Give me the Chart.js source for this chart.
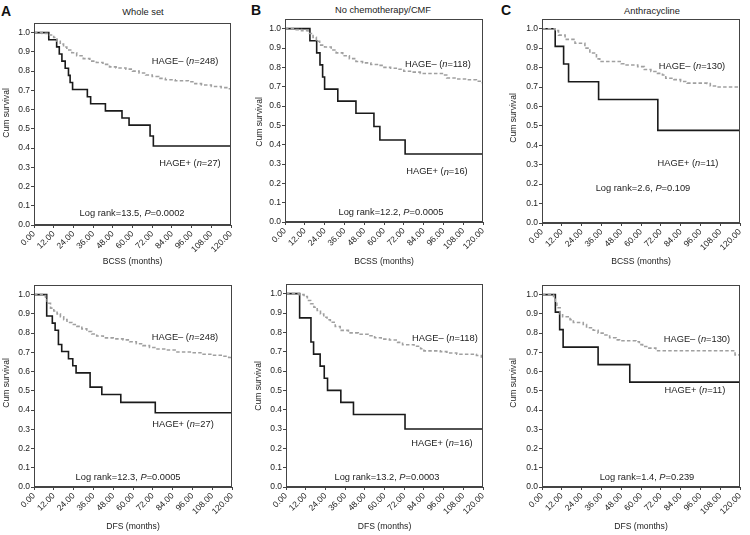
<!DOCTYPE html>
<html>
<head>
<meta charset="utf-8">
<script src="https://cdn.jsdelivr.net/npm/chart.js@4.4.1/dist/chart.umd.min.js"></script>
<style>
  body { margin: 0; background: #fff; width: 750px; height: 535px; position: relative; overflow: hidden;
         font-family: "Liberation Sans", Arial, sans-serif; color: #222; }
  canvas { position: absolute; }
  .ttl { position: absolute; transform: translate(-50%, -50%); white-space: nowrap; font-size: 9.3px; }
  .letter { position: absolute; transform: translate(-50%, -50%); font-weight: bold; font-size: 14px; color: #111; }
</style>
</head>
<body>
<div class="letter" style="left:6px;top:11px">A</div>
<div class="letter" style="left:256px;top:10px">B</div>
<div class="letter" style="left:506px;top:10px">C</div>
<div class="ttl" id="t0" style="left:143px;top:12px"></div>
<div class="ttl" id="t1" style="left:383px;top:10px"></div>
<div class="ttl" id="t2" style="left:652px;top:11px"></div>
<canvas id="c0" width="245" height="268" style="left:0;top:0"></canvas>
<canvas id="c1" width="245" height="268" style="left:250px;top:0"></canvas>
<canvas id="c2" width="250" height="268" style="left:500px;top:0"></canvas>
<canvas id="c3" width="245" height="267" style="left:0;top:268px"></canvas>
<canvas id="c4" width="245" height="267" style="left:250px;top:268px"></canvas>
<canvas id="c5" width="250" height="267" style="left:500px;top:268px"></canvas>
<script>
const monthTicks = [0, 12, 24, 36, 48, 60, 72, 84, 96, 108, 120];
const survivalTicks = [0, 0.1, 0.2, 0.3, 0.4, 0.5, 0.6, 0.7, 0.8, 0.9, 1.0];
const cohorts = ['Whole set', 'No chemotherapy/CMF', 'Anthracycline'];
const endpoints = ['BCSS (months)', 'DFS (months)'];
const nNeg = [248, 118, 130];
const nPos = [27, 16, 11];
const logRank = ['13.5', '12.2', '2.6', '12.3', '13.2', '1.4'];
const pValue = ['0.0002', '0.0005', '0.109', '0.0005', '0.0003', '0.239'];

// BCSS, [months, cum survival]
const bcssWholePos = [[0,1],[9,0.963],[13.8,0.926],[15.4,0.889],[17,0.852],[19,0.815],[21,0.778],[22,0.741],[23.5,0.704],[32.5,0.667],[34.5,0.63],[43.5,0.593],[53.6,0.556],[57.9,0.519],[70.7,0.463],[72.7,0.411],[120,0.411]];
const bcssWholeNeg = [[0,1],[5,0.996],[9,0.988],[12,0.975],[14,0.955],[16,0.94],[18,0.925],[20,0.91],[23,0.895],[26,0.88],[30,0.865],[34,0.852],[38,0.845],[42,0.835],[46,0.822],[50,0.816],[56,0.81],[60,0.8],[64,0.79],[68,0.78],[72,0.772],[76,0.762],[80,0.755],[86,0.75],[94,0.745],[98,0.735],[102,0.728],[108,0.72],[114,0.714],[118,0.708],[120,0.708]];
const bcssNoChemoPos = [[0,1],[15.1,0.9375],[19.2,0.875],[21.2,0.8125],[22.8,0.75],[24,0.6875],[32,0.625],[43,0.5625],[53.9,0.494],[57.5,0.424],[72.8,0.352],[120,0.352]];
const bcssNoChemoNeg = [[0,1],[6,0.995],[10,0.99],[14,0.975],[17,0.955],[19,0.935],[21,0.915],[24,0.905],[28,0.89],[31,0.875],[35,0.86],[39,0.845],[43,0.83],[47,0.823],[52,0.815],[56,0.81],[60,0.8],[64,0.795],[68,0.79],[72,0.78],[76,0.775],[82,0.768],[96,0.76],[98,0.745],[104,0.74],[110,0.736],[116,0.728],[119,0.72],[120,0.72]];
const bcssAnthraPos = [[0,1],[8,0.909],[13.1,0.818],[16.1,0.727],[34.3,0.636],[70.2,0.477],[120,0.477]];
const bcssAnthraNeg = [[0,1],[8,0.99],[10,0.967],[14,0.945],[20,0.925],[26,0.9],[29,0.875],[33,0.845],[35,0.831],[48,0.82],[51,0.813],[58,0.805],[62,0.79],[66,0.78],[70,0.77],[73,0.762],[75,0.745],[80,0.738],[84,0.728],[88,0.72],[100,0.718],[102,0.705],[106,0.7],[120,0.7]];

// DFS
const dfsWholePos = [[0,1],[7.7,0.889],[11.1,0.852],[12.8,0.815],[14.8,0.741],[16.8,0.704],[20.9,0.667],[23.5,0.63],[25.5,0.593],[34,0.519],[41.1,0.481],[52.6,0.44],[73.5,0.386],[120,0.386]];
const dfsWholeNeg = [[0,1],[5,0.995],[7,0.975],[8,0.955],[10,0.93],[12,0.915],[14,0.9],[16,0.885],[18,0.87],[20,0.855],[23,0.845],[26,0.835],[29,0.822],[32,0.808],[35,0.795],[38,0.785],[42,0.775],[48,0.77],[54,0.765],[58,0.755],[62,0.745],[66,0.735],[70,0.725],[74,0.717],[80,0.712],[86,0.702],[96,0.698],[102,0.69],[108,0.685],[114,0.68],[118,0.673],[120,0.673]];
const dfsNoChemoPos = [[0,1],[8.3,0.875],[15.2,0.75],[16.8,0.6875],[20.8,0.625],[23.3,0.5625],[25.3,0.5],[33.4,0.4375],[41.1,0.375],[72.5,0.3],[120,0.3]];
const dfsNoChemoNeg = [[0,1],[8,0.995],[11,0.985],[13,0.965],[15,0.948],[17,0.93],[19,0.913],[21,0.895],[23,0.878],[25,0.865],[27,0.852],[30,0.83],[33,0.81],[38,0.797],[44,0.79],[50,0.782],[54,0.772],[58,0.765],[63,0.76],[68,0.748],[71,0.736],[78,0.728],[82,0.715],[84,0.704],[94,0.7],[98,0.693],[104,0.687],[116,0.68],[119,0.673],[120,0.673]];
const dfsAnthraPos = [[0,1],[8.1,0.909],[10.7,0.818],[12.8,0.727],[34,0.636],[53.2,0.545],[120,0.545]];
const dfsAnthraNeg = [[0,1],[7,0.99],[8,0.96],[9,0.932],[11,0.9],[12.5,0.885],[17,0.87],[19,0.855],[25,0.845],[27,0.828],[31,0.815],[34,0.8],[37,0.79],[41,0.776],[45,0.765],[47,0.76],[57,0.755],[59,0.74],[61,0.73],[64,0.722],[69,0.708],[117,0.687],[120,0.687]];

const posCurves = [bcssWholePos, bcssNoChemoPos, bcssAnthraPos, dfsWholePos, dfsNoChemoPos, dfsAnthraPos];
const negCurves = [bcssWholeNeg, bcssNoChemoNeg, bcssAnthraNeg, dfsWholeNeg, dfsNoChemoNeg, dfsAnthraNeg];

// plot box inside each canvas [left, top, right, bottom], y title centre (canvas px), label anchors (data coords)
const frames = [
  { area: [34, 23, 231, 225], yTitle: [6.7, 113],  xPad: 0.8, neg: [92, 0.849],   pos: [95, 0.318],   lr: [59.7, 0.0625] },
  { area: [35, 19, 233, 222], yTitle: [9.7, 122],  xPad: 0.8, neg: [92.7, 0.813], pos: [92.1, 0.259], lr: [64.2, 0.052] },
  { area: [42, 19, 240, 223], yTitle: [13.3, 118], xPad: 0.8, neg: [90.9, 0.804], pos: [88.5, 0.309], lr: [61.2, 0.18] },
  { area: [34, 17, 232, 219], yTitle: [6.3, 115],  xPad: 3.1, neg: [91.5, 0.776], pos: [90.3, 0.323], lr: [57, 0.052] },
  { area: [36, 16, 233, 219], yTitle: [9, 118],    xPad: 3.1, neg: [96.8, 0.766], pos: [95, 0.224],   lr: [61.5, 0.047] },
  { area: [42, 17, 240, 219], yTitle: [13.3, 115], xPad: 3.1, neg: [93.9, 0.766], pos: [92.7, 0.5],   lr: [63.6, 0.052] }
];

const FONT = '"Liberation Sans", Arial, sans-serif';
const AXIS = '#444';

cohorts.forEach((c, i) => { document.getElementById('t' + i).textContent = c; });

function richText(ctx, parts, cx, cy) {
  let w = 0;
  parts.forEach(p => { ctx.font = (p[1] ? 'italic ' : '') + '9.3px ' + FONT; w += ctx.measureText(p[0]).width; });
  let x = cx - w / 2;
  parts.forEach(p => {
    ctx.font = (p[1] ? 'italic ' : '') + '9.3px ' + FONT;
    ctx.fillText(p[0], x, cy);
    x += ctx.measureText(p[0]).width;
  });
}

const kmLabels = {
  id: 'kmLabels',
  afterDatasetsDraw(chart, args, opts) {
    const { ctx, scales: { x, y } } = chart;
    ctx.save();
    ctx.fillStyle = '#222';
    ctx.textBaseline = 'middle';
    ctx.textAlign = 'left';
    opts.items.forEach(it => richText(ctx, it.parts, x.getPixelForValue(it.at[0]), y.getPixelForValue(it.at[1])));
    // y axis title
    ctx.translate(opts.yTitle[0], opts.yTitle[1]);
    ctx.rotate(-Math.PI / 2);
    ctx.textAlign = 'center';
    ctx.font = '8.6px ' + FONT;
    ctx.fillText('Cum survival', 0, 0);
    ctx.restore();
  },
  afterDraw(chart) {
    const { ctx, chartArea: a } = chart;
    ctx.save();
    ctx.strokeStyle = AXIS;
    ctx.lineWidth = 1;
    ctx.strokeRect(a.left + 0.5, a.top + 0.5, a.right - a.left - 1, a.bottom - a.top - 1);
    ctx.restore();
  }
};

frames.forEach((f, i) => {
  const canvas = document.getElementById('c' + i);
  const W = canvas.width, H = canvas.height;
  const [l, t, r, b] = f.area;
  const k = i % 3;
  new Chart(canvas, {
    type: 'line',
    data: {
      datasets: [
        {
          label: 'HAGE–',
          data: negCurves[i].map(p => ({ x: p[0], y: p[1] })),
          borderColor: '#a0a0a0',
          borderWidth: 1.6,
          borderDash: [3.5, 2.2],
          stepped: true,
          pointRadius: 0
        },
        {
          label: 'HAGE+',
          data: posCurves[i].map(p => ({ x: p[0], y: p[1] })),
          borderColor: '#1a1a1a',
          borderWidth: 1.6,
          stepped: true,
          pointRadius: 0
        }
      ]
    },
    options: {
      responsive: false,
      animation: false,
      layout: { padding: { left: 0, top: t, right: W - r, bottom: 0 } },
      plugins: {
        legend: { display: false },
        tooltip: { enabled: false },
        kmLabels: {
          yTitle: f.yTitle,
          items: [
            { at: f.neg, parts: [['HAGE– (', false], ['n', true], ['=' + nNeg[k] + ')', false]] },
            { at: f.pos, parts: [['HAGE+ (', false], ['n', true], ['=' + nPos[k] + ')', false]] },
            { at: f.lr, parts: [['Log rank=' + logRank[i] + ', ', false], ['P', true], ['=' + pValue[i], false]] }
          ]
        }
      },
      scales: {
        x: {
          type: 'linear',
          min: 0,
          max: 120,
          afterBuildTicks: s => { s.ticks = monthTicks.map(v => ({ value: v })); },
          afterFit: s => { s.height = H - b; },
          ticks: {
            autoSkip: false,
            minRotation: 45,
            maxRotation: 45,
            padding: 1,
            color: '#222',
            font: { family: FONT, size: 8.5 },
            callback: v => Number(v).toFixed(2)
          },
          grid: { drawOnChartArea: false, drawTicks: true, tickLength: 3, color: AXIS },
          border: { color: AXIS },
          title: {
            display: true,
            text: endpoints[i < 3 ? 0 : 1],
            color: '#222',
            font: { family: FONT, size: 8.6 },
            padding: { top: 0, bottom: f.xPad }
          }
        },
        y: {
          min: 0,
          max: 1.05,
          afterBuildTicks: s => { s.ticks = survivalTicks.map(v => ({ value: v })); },
          afterFit: s => { s.width = l; },
          ticks: {
            padding: 1,
            color: '#222',
            font: { family: FONT, size: 8.5 },
            callback: v => Number(v).toFixed(1)
          },
          grid: { drawOnChartArea: false, drawTicks: true, tickLength: 3, color: AXIS },
          border: { color: AXIS },
          title: { display: false }
        }
      }
    },
    plugins: [kmLabels]
  });
});
</script>
</body>
</html>
